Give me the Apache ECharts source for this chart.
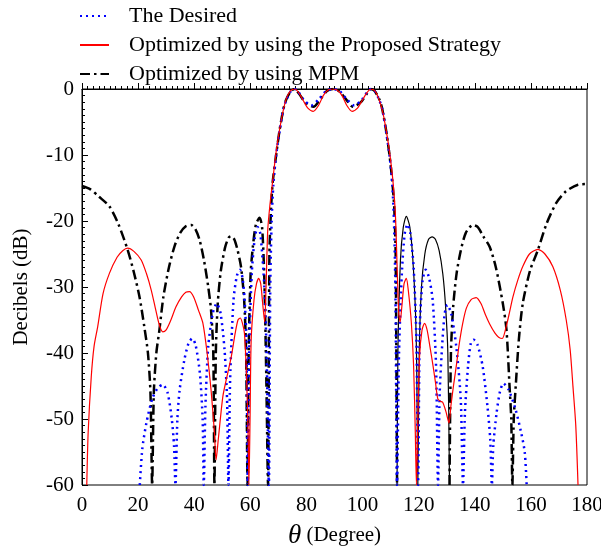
<!DOCTYPE html>
<html>
<head>
<meta charset="utf-8">
<script src="https://cdn.jsdelivr.net/npm/echarts@6/dist/echarts.min.js"></script>
<style>
  html, body { margin: 0; padding: 0; background: #fff; }
  #chart { width: 601px; height: 548px; }
</style>
</head>
<body>
<div id="chart"></div>
<script>
// beam patterns, [theta (deg), level (dB)]
const desired = [
  [20.6, -60], [21.5, -54.5], [23, -50.5], [25, -47], [27, -45.3], [28.8, -44.8], [30.5, -46], [32, -50], [32.8, -54], [33.3, -60],
  [34, -50], [34.8, -45.6], [36.5, -41], [38, -38.5], [39.3, -37.8], [40.5, -38.8], [42, -43], [43, -50], [43.4, -60],
  [44, -48], [45, -39], [46.6, -34], [48, -32.5], [49.4, -34], [50.8, -39.5], [51.7, -47], [52.2, -60],
  [52.8, -44], [54, -32], [55.2, -28.3], [56.3, -27.4], [57.2, -28.6], [57.9, -31.5], [58.6, -38], [59.1, -60],
  [59.6, -40], [60.5, -28], [61.6, -22.5], [62.6, -20.9], [63.6, -22], [65, -30], [65.8, -40], [66.6, -60],
  [67.1, -30], [67.6, -20], [68.2, -14.5], [69.2, -10], [70.4, -6.5], [71.8, -3], [73, -1.5], [74.5, -0.3], [75.8, 0],
  [77.2, -0.5], [79, -1.6], [81.7, -2.5], [84.5, -1.5], [87, -0.3], [89.4, 0], [91.8, -0.3], [94.3, -1.5], [97.1, -2.5],
  [99.8, -1.6], [101.6, -0.5], [103, 0], [104.3, -0.3], [105.8, -1.5], [107, -3], [108.4, -6.5], [109.6, -10],
  [110.6, -14.5], [111.2, -20], [111.7, -30], [112.3, -60],
  [113, -40], [114, -28], [115, -22], [116, -20.5], [117, -21.8], [118.2, -27], [119.2, -38], [119.8, -60],
  [120.4, -36], [121.4, -29], [122.5, -27.4], [123.7, -28.6], [125, -32], [126.2, -42], [126.9, -60],
  [127.5, -46], [128.5, -38], [129.3, -34], [130.2, -32.7], [131.6, -34], [133.4, -39], [135, -47], [135.8, -60],
  [136.5, -49], [137.6, -42], [138.6, -38.5], [139.6, -38], [141, -38.8], [142.8, -42], [144.5, -48], [145.5, -53], [146.1, -60],
  [146.6, -54], [147.8, -49], [149, -45.8], [150.2, -44.6], [152, -45.5], [154.5, -48.5], [156.5, -52], [157.8, -55], [158.5, -60]
];

const proposed = [
  [1.7, -60], [2.2, -52], [3.3, -43.6], [4.3, -39], [5.6, -36], [7.5, -31], [9.8, -27.9], [12.5, -25.5],
  [14.5, -24.5], [16.3, -24.1], [18.5, -24.6], [21.1, -25.9], [23, -28], [24.7, -30.5], [26.3, -33.5], [27.6, -35.8],
  [28.8, -36.8], [30, -36.5], [31.5, -35.2], [33.5, -33], [35.5, -31.5], [37, -30.8], [38.3, -30.7], [39.8, -31.5],
  [41.5, -33.5], [43.1, -35.5], [44.6, -40], [46, -45.6], [47.2, -52], [47.8, -56.2], [48.6, -53], [50.2, -46.6],
  [51.7, -43.5], [53.2, -40.6], [54.6, -37], [55.6, -35], [56.4, -34.7], [57.2, -35.5], [57.9, -37], [58.6, -43],
  [59.2, -52], [59.5, -60], [59.9, -50], [60.3, -38], [61.3, -32], [62.2, -29.5], [63, -28.7], [63.7, -29.5],
  [64.4, -32.5], [65.1, -35.3], [65.6, -30], [66.2, -21.4], [67, -17.5], [68, -13.8], [69.2, -9.5], [70.4, -6.2],
  [71.6, -3.5], [72.8, -1.5], [74.3, -0.3], [75.8, 0], [77.3, -0.6], [78.8, -1.7], [80.5, -2.9], [82.4, -3.4],
  [84.3, -2.5], [86, -1], [87.6, -0.2], [89.3, 0], [91, -0.2], [92.7, -1], [94.4, -2.5], [96.3, -3.4], [98.2, -2.9],
  [99.9, -1.7], [101.5, -0.6], [103, 0], [104.4, -0.3], [105.8, -1.5], [107.2, -3.5], [108.4, -6.2], [109.6, -9.5],
  [110.8, -13.8], [111.7, -19], [112.4, -28], [112.9, -34], [113.4, -35.3], [114, -33], [114.8, -29.5], [115.6, -28.7],
  [116.3, -30.5], [117.4, -35.5], [118.2, -42], [118.8, -52], [119.2, -60], [119.7, -50], [120.3, -40.6], [121.2, -36.5],
  [122.1, -35.5], [123, -36.5], [124, -39], [125, -41.6], [126, -44.5], [126.8, -46.9], [127.7, -47.3], [128.6, -47.5],
  [129.8, -49], [130.8, -50.6], [131.5, -48], [132.4, -45], [133.4, -42], [134.5, -38.5], [135.7, -35.5], [137, -33.2],
  [138.7, -31.9], [140.5, -31.6], [142.2, -32.5], [143.8, -34.2], [145.3, -35.6], [147.2, -37], [148.5, -37.6],
  [149.8, -37.8], [151.2, -36], [152.4, -33.8], [153.6, -31.5], [155.3, -29], [157.1, -26.9], [159.5, -25], [162.5, -24.3],
  [165, -25], [167.8, -26.9], [170.5, -30.5], [172.6, -35], [174, -39.5], [175, -45.1], [176, -51], [176.8, -60]
];

const mpm = [
  [0, -14.7], [3, -15.2], [6, -16.3], [9.8, -17.8], [13, -20.5], [16.3, -24.4], [18.5, -27.8], [20.5, -31.5], [22.2, -36],
  [23.5, -40], [24.4, -46], [25, -60], [25.6, -46], [26.5, -40], [27.6, -36.5], [29, -31.5], [31, -27], [33, -23.8],
  [35, -21.8], [37, -20.8], [38.9, -20.6], [40.5, -21.3], [42, -23], [43.5, -26], [45, -30], [46, -33.5], [46.8, -40],
  [47.2, -60], [47.7, -40], [48.4, -32.4], [49.5, -27.5], [51, -24], [52.3, -22.5], [53.2, -22.3], [54.3, -22.8],
  [55.5, -24.5], [56.7, -27], [57.8, -32], [58.5, -40], [59, -60], [59.4, -40], [60.1, -28], [60.9, -23.9], [62, -20.5],
  [63.3, -19.5], [64.2, -21], [65, -28.9], [65.7, -44], [66.3, -60], [66.8, -25], [67.4, -18], [68, -14], [69.2, -10],
  [70.4, -6.3], [71.8, -3], [72.8, -1.6], [74.5, -0.3], [75.8, 0], [77.5, -0.8], [79.5, -2], [82.5, -2.7], [85, -1.5],
  [87.3, -0.3], [89.4, 0], [91.5, -0.3], [94, -1.5], [96.5, -2.7], [99.4, -2], [101.4, -0.8], [103, 0], [104.3, -0.3],
  [106, -1.6], [107, -3], [108.4, -6.3], [109.6, -10], [110.6, -14], [111.3, -18], [111.8, -25], [112.3, -60],
  [112.6, -40], [113.5, -26], [114.5, -21], [115.6, -19.3], [116.8, -20.8], [117.8, -25], [118.8, -33], [119.3, -42],
  [119.7, -60], [120.2, -40], [121, -30], [122.2, -25], [123.5, -22.8], [124.8, -22.4], [126, -22.8], [127.3, -24.5],
  [128.6, -28], [129.6, -33], [130.4, -40], [131, -60], [131.5, -40], [132.3, -33], [133.5, -28], [135, -24.5],
  [136.8, -21.8], [139.3, -20.6], [141, -20.9], [143, -22.3], [145.3, -23.9], [147.5, -27], [150, -32.5], [151.3, -36.5],
  [152.4, -45.1], [153, -50], [153.4, -60], [153.9, -50], [154.6, -45], [155.7, -38], [157.1, -32.5], [159.7, -27.5],
  [162.5, -24.4], [165.5, -20.5], [169, -17.3], [172.5, -15.5], [176.8, -14.5], [180, -14.4]
];

// in the figure the MPM curve between these two nulls is printed as a thin solid line
const mpmThinFrom = 112.3;
const mpmThinTo = 131;

const seriesNames = [
  "The Desired",
  "Optimized by using the Proposed Strategy",
  "Optimized by using MPM"
];

const font = "Liberation Serif";

const mpmDashed = mpm
  .filter(p => p[0] <= mpmThinFrom)
  .concat(["-"])
  .concat(mpm.filter(p => p[0] >= mpmThinTo));
const mpmThin = mpm.filter(p => p[0] >= mpmThinFrom && p[0] <= mpmThinTo);

const chart = echarts.init(document.getElementById("chart"), null, { renderer: "canvas" });

chart.setOption({
  animation: false,
  backgroundColor: "#fff",
  legend: {
    orient: "vertical",
    left: 74,
    top: 0,
    itemWidth: 29,
    itemHeight: 14,
    itemGap: 7,
    data: seriesNames,
    itemStyle: { opacity: 0 },
    textStyle: { fontFamily: font, fontSize: 22, color: "#000", padding: [0, 0, 0, 15] }
  },
  grid: {
    left: 82,
    right: 14,
    top: 89,
    bottom: 63,
    outerBoundsMode: "none",
    show: true,
    borderColor: "#000",
    borderWidth: 1,
    backgroundColor: "transparent"
  },
  xAxis: {
    type: "value",
    min: 0,
    max: 180,
    interval: 20,
    name: "{t|θ} (Degree)",
    nameLocation: "middle",
    nameGap: 37,
    nameTextStyle: {
      fontFamily: font,
      fontSize: 21,
      color: "#000",
      rich: { t: { fontFamily: font, fontStyle: "italic", fontSize: 27, color: "#000" } }
    },
    axisLine: { lineStyle: { color: "#000", width: 1 } },
    axisTick: { inside: true, length: 6, lineStyle: { color: "#000" } },
    minorTick: { show: true, splitNumber: 10, length: 3, lineStyle: { color: "#000" } },
    axisLabel: { margin: 10, fontFamily: font, fontSize: 21, color: "#000" },
    splitLine: { show: false }
  },
  yAxis: {
    type: "value",
    min: -60,
    max: 0,
    interval: 10,
    name: "Decibels (dB)",
    nameLocation: "middle",
    nameGap: 50,
    nameTextStyle: { fontFamily: font, fontSize: 21, color: "#000" },
    axisLine: { show: true, lineStyle: { color: "#000", width: 1 } },
    axisTick: { show: true, inside: true, length: 6, lineStyle: { color: "#000" } },
    minorTick: { show: true, splitNumber: 10, length: 3, lineStyle: { color: "#000" } },
    axisLabel: { margin: 8, fontFamily: font, fontSize: 21, color: "#000" },
    splitLine: { show: false }
  },
  series: [
    {
      name: seriesNames[0],
      type: "line",
      data: desired,
      symbol: "none",
      smooth: 0.25,
      z: 3,
      lineStyle: { color: "#0000ff", width: 2.5, type: [2, 4] },
      itemStyle: { color: "#0000ff" }
    },
    {
      name: seriesNames[1],
      type: "line",
      data: proposed,
      symbol: "none",
      smooth: 0.25,
      z: 4,
      lineStyle: { color: "#ff0000", width: 1.2 },
      itemStyle: { color: "#ff0000" }
    },
    {
      name: seriesNames[2],
      type: "line",
      data: mpmDashed,
      symbol: "none",
      smooth: 0.25,
      z: 2,
      lineStyle: { color: "#000", width: 2.5, type: [10, 4, 2.5, 4] },
      itemStyle: { color: "#000" }
    },
    {
      name: "MPM (thin part)",
      type: "line",
      data: mpmThin,
      symbol: "none",
      smooth: 0.25,
      z: 2,
      lineStyle: { color: "#000", width: 1.2 },
      itemStyle: { color: "#000" }
    }
  ]
});
</script>
</body>
</html>
